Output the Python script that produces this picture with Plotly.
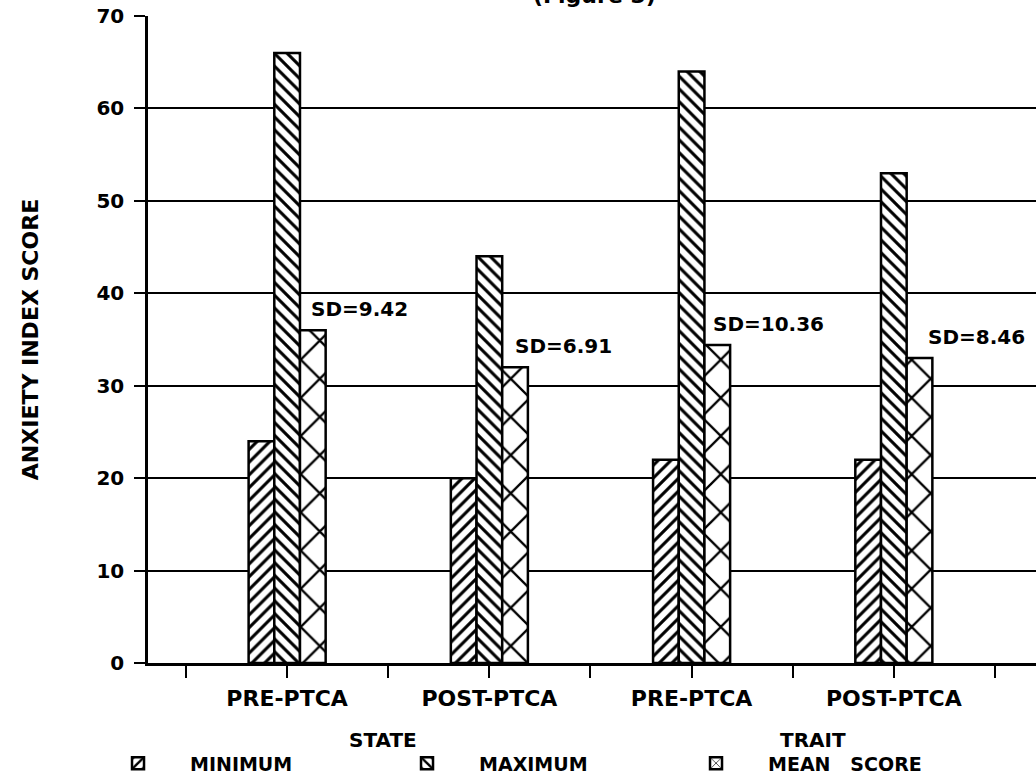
import plotly.graph_objects as go

# ---- data ----
categories = ["PRE-PTCA", "POST-PTCA", "PRE-PTCA", "POST-PTCA"]
groups = ["STATE", "TRAIT"]
minimum = [24, 20, 22, 22]
maximum = [66, 44, 64, 53]
mean_score = [36, 32, 34.4, 33]
sd_labels = ["SD=9.42", "SD=6.91", "SD=10.36", "SD=8.46"]
series_names = ["MINIMUM", "MAXIMUM", "MEAN\u00a0\u00a0\u00a0SCORE"]
y_ticks = [0, 10, 20, 30, 40, 50, 60, 70]

FONT = "DejaVu Sans"
positions = [i + 1 for i in range(len(categories))]

# ticks at every category and half-way between categories
tick_vals, tick_text = [], []
for p, c in zip(positions, categories):
    tick_vals += [p - 0.5, p]
    tick_text += ["", c]
tick_vals.append(positions[-1] + 0.5)
tick_text.append("")

patterns = [
    dict(shape="/", size=9, solidity=0.34),
    dict(shape="\\", size=9, solidity=0.34),
    dict(shape="x", size=27, solidity=0.16),
]

fig = go.Figure()
for name, vals, pat in zip(series_names, [minimum, maximum, mean_score], patterns):
    fig.add_trace(go.Bar(
        x=positions, y=vals, name=name,
        marker=dict(
            color="white",
            line=dict(color="black", width=2.5),
            pattern=dict(fgcolor="black", bgcolor="white", fillmode="replace", **pat),
        ),
    ))

# SD labels above the mean bars
sd_xshift = [22, 24, 19, 32]
for p, m, lab, xs in zip(positions, mean_score, sd_labels, sd_xshift):
    fig.add_annotation(x=p, y=m, text=lab, showarrow=False, xanchor="left",
                       yanchor="middle", xshift=xs, yshift=21,
                       font=dict(size=20))

# group labels
group_xshift = [-5, 20]
for gi, (g, xs) in enumerate(zip(groups, group_xshift)):
    mid = (positions[2 * gi] + positions[2 * gi + 1]) / 2
    fig.add_annotation(x=mid, xref="x", y=0, yref="paper", text=g, showarrow=False,
                       xanchor="center", yanchor="middle", xshift=xs, yshift=-77,
                       font=dict(size=20))

# partially cut-off figure caption at the top
fig.add_annotation(x=0.503, xref="paper", y=1, yref="paper", text="(Figure 3)",
                   showarrow=False, xanchor="center", yanchor="middle", yshift=21,
                   font=dict(size=22))

fig.update_layout(
    width=1036, height=778,
    margin=dict(l=148, r=0, t=16, b=115, autoexpand=False),
    paper_bgcolor="white", plot_bgcolor="white",
    barmode="group", bargap=0.619, bargroupgap=0,
    font=dict(family=FONT, color="black", size=20, weight="bold"),
    showlegend=True,
    legend=dict(orientation="h", x=-0.0698, xanchor="left", y=-0.155,
                yanchor="middle", entrywidth=180, itemwidth=94,
                font=dict(size=19), traceorder="normal",
                bgcolor="rgba(0,0,0,0)"),
    xaxis=dict(range=[0.312, 4.703], tickmode="array", tickvals=tick_vals,
               ticktext=tick_text, ticks="outside", ticklen=12, tickwidth=2,
               tickcolor="black", showline=True, linewidth=2.5, linecolor="black",
               showgrid=False, zeroline=False, tickfont=dict(size=22),
               ticklabelstandoff=2, automargin=False),
    yaxis=dict(range=[0, 70], tickmode="array", tickvals=y_ticks, ticks="outside",
               ticklen=11, tickwidth=2, tickcolor="black", showline=True,
               linewidth=2.5, linecolor="black", showgrid=True, gridcolor="black",
               gridwidth=2, zeroline=False, tickfont=dict(size=20),
               ticklabelstandoff=6, automargin=False,
               title=dict(text="ANXIETY INDEX SCORE", standoff=52,
                          font=dict(size=22))),
)

fig.write_html("out.html", config={"displayModeBar": False},
               post_script="document.body.style.margin='0';")
